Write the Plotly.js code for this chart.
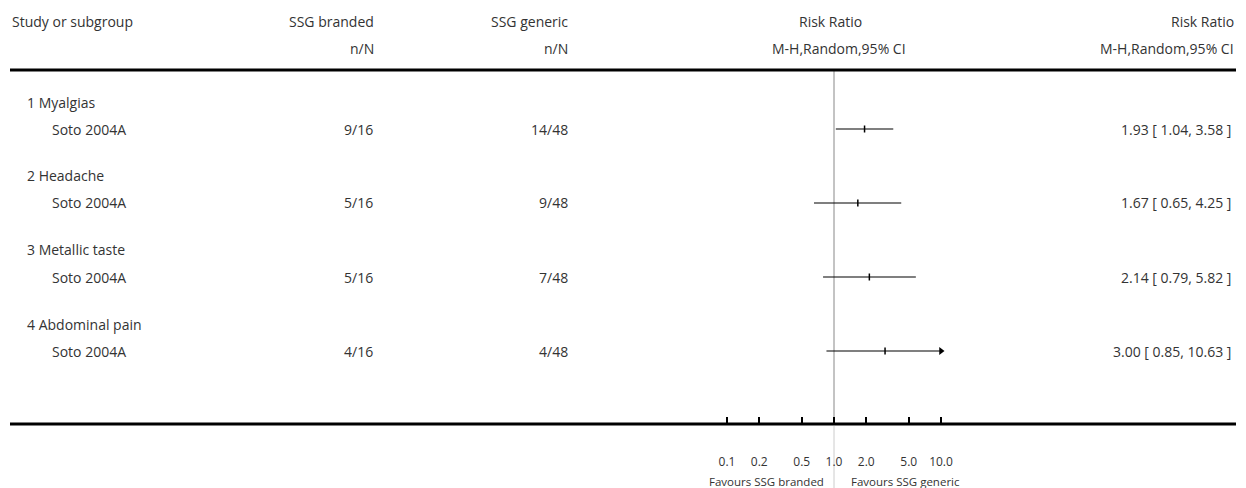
<!DOCTYPE html>
<html><head><meta charset="utf-8">
<script src="https://cdn.plot.ly/plotly-3.0.1.min.js"></script>
<style>html,body{margin:0;padding:0;background:#fff}#c{width:1246px;height:488px}</style>
</head><body><div id="c"></div>
<script>
const subgroups = ["1 Myalgias", "2 Headache", "3 Metallic taste", "4 Abdominal pain"];
const studies = ["Soto 2004A", "Soto 2004A", "Soto 2004A", "Soto 2004A"];
const branded = ["9/16", "5/16", "5/16", "4/16"];
const generic = ["14/48", "9/48", "7/48", "4/48"];
const rr = [1.93, 1.67, 2.14, 3.00];
const lower = [1.04, 0.65, 0.79, 0.85];
const upper = [3.58, 4.25, 5.82, 10.63];
const tickVals = [0.1, 0.2, 0.5, 1, 2, 5, 10];
const tickText = ["0.1", "0.2", "0.5", "1.0", "2.0", "5.0", "10.0"];
const leftLabel = "Favours SSG branded";
const rightLabel = "Favours SSG generic";

const W = 1246, H = 488;
const FONT = "'Open Sans', Lato, sans-serif";
const fs = 14;
const xmin = 0.1, xmax = 10;
const groupY = i => 102 + 74 * i;
const studyY = i => groupY(i) + 27;
const px = p => p / W;
const py = p => 1 - p / H;
const PPD = 107; // pixels per decade
const X1 = 834;  // pixel of RR = 1
const pad = 0.05;

const traces = [];
rr.forEach((v, i) => {
  const lo = Math.max(lower[i], xmin), hi = Math.min(upper[i], xmax);
  traces.push({x: [lo, hi], y: [studyY(i), studyY(i)], mode: 'lines', type: 'scatter',
    line: {color: '#000', width: 1.2}, hoverinfo: 'skip', showlegend: false, cliponaxis: false});
  traces.push({x: [v], y: [studyY(i)], mode: 'markers', type: 'scatter', cliponaxis: false,
    marker: {symbol: 'line-ns', size: 5, line: {color: '#000', width: 1.5}}, showlegend: false});
  if (upper[i] > xmax) {
    traces.push({x: [xmax], y: [studyY(i)], mode: 'markers', type: 'scatter', cliponaxis: false,
      marker: {symbol: 'triangle-right', size: 7, color: '#000'}, showlegend: false});
  }
});

const ann = [];
function t(text, x, y, xanchor, size) {
  ann.push({text: text, x: px(x), y: py(y), xref: 'paper', yref: 'paper', xanchor: xanchor,
    yanchor: 'middle', showarrow: false, font: {family: FONT, size: size || fs, color: '#333'}});
}
t("Study or subgroup", 10, 21, 'left');
t("SSG branded", 376, 21, 'right');
t("n/N", 376, 48, 'right');
t("SSG generic", 570, 21, 'right');
t("n/N", 570, 48, 'right');
t("Risk Ratio", 830, 21, 'center');
t("M-H,Random,95% CI", 839, 48, 'center');
t("Risk Ratio", 1236, 21, 'right');
t("M-H,Random,95% CI", 1236, 48, 'right');
subgroups.forEach((s, i) => {
  t(s, 25, groupY(i), 'left');
  t(studies[i], 50, studyY(i), 'left');
  t(branded[i], 375, studyY(i), 'right');
  t(generic[i], 570, studyY(i), 'right');
  const f = v => v.toFixed(2);
  t(f(rr[i]) + " [ " + f(lower[i]) + ", " + f(upper[i]) + " ]", 1233, studyY(i), 'right');
});
t(leftLabel, 826, 481, 'right', 11.5);
t(rightLabel, 849, 481, 'left', 11.5);

const shapes = [
  {type: 'line', xref: 'paper', yref: 'paper', x0: px(10), x1: px(1236), y0: py(70), y1: py(70), line: {color: '#000', width: 3}},
  {type: 'line', xref: 'paper', yref: 'paper', x0: px(10), x1: px(1236), y0: py(424), y1: py(424), line: {color: '#000', width: 3}},
  {type: 'line', xref: 'x', yref: 'paper', x0: 1, x1: 1, y0: py(71), y1: py(423), line: {color: '#888', width: 1}, layer: 'below'},
  {type: 'line', xref: 'x', yref: 'paper', x0: 1, x1: 1, y0: py(426), y1: py(488), line: {color: '#ccc', width: 1}, layer: 'below'}
];

const r0 = -1 - pad, r1 = 1 + pad;
const layout = {
  width: W, height: H, margin: {l: 0, r: 0, t: 0, b: 0},
  paper_bgcolor: '#fff', plot_bgcolor: 'rgba(0,0,0,0)',
  xaxis: {type: 'log', domain: [(X1 + r0 * PPD) / W, (X1 + r1 * PPD) / W], range: [r0, r1], anchor: 'free', position: py(424),
    tickvals: tickVals, ticktext: tickText, ticks: 'inside', ticklen: 7, tickwidth: 2, tickcolor: '#000',
    showgrid: false, zeroline: false, showline: false, ticklabelstandoff: 29,
    tickfont: {family: FONT, size: 12, color: '#333'}, fixedrange: true},
  yaxis: {range: [H, 0], domain: [0, 1], visible: false, fixedrange: true},
  annotations: ann, shapes: shapes, showlegend: false
};
Plotly.newPlot('c', traces, layout, {staticPlot: true});
</script></body></html>
